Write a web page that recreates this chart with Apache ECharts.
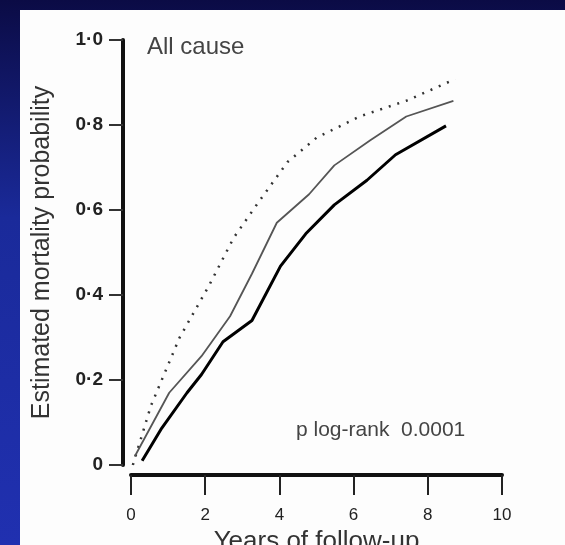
<!DOCTYPE html>
<html><head><meta charset="utf-8">
<script src="https://cdn.jsdelivr.net/npm/echarts@6/dist/echarts.min.js"></script>
<style>
html,body{margin:0;padding:0;}
body{width:565px;height:545px;background:linear-gradient(to bottom,#0b0b45 0%,#1a2a9a 40%,#2030b0 100%);}
#c{width:565px;height:545px;}
</style></head><body><div id="c"></div>
<script>
const xTicks = [0, 2, 4, 6, 8, 10];
const yTicks = [0, 0.2, 0.4, 0.6, 0.8, 1.0];
const dottedSeries = [[0.05,0],[0.54,0.14],[1.31,0.30],[2.09,0.42],[2.77,0.535],[3.45,0.62],[4.22,0.713],[5.0,0.77],[6.16,0.82],[7.42,0.857],[8.74,0.908]];
const thinSeries = [[0.1,0.02],[1.03,0.17],[1.9,0.256],[2.67,0.35],[3.26,0.45],[3.93,0.57],[4.8,0.637],[5.48,0.705],[6.45,0.764],[7.42,0.82],[8.69,0.857]];
const thickSeries = [[0.3,0.01],[0.83,0.087],[1.51,0.17],[1.9,0.213],[2.48,0.29],[3.26,0.34],[4.03,0.468],[4.71,0.544],[5.48,0.612],[6.36,0.67],[7.13,0.73],[8.49,0.798]];
const c = echarts.init(document.getElementById('c'));
const ff = 'Liberation Sans';
c.setOption({
  animation:false,
  graphic:[
    {type:'rect',left:20,top:10,shape:{width:545,height:535},style:{fill:'#fdfdfd'},z:-10},
    {type:'text',left:147,top:35,style:{text:'All cause',font:'24px "Liberation Sans"',fill:'#444'}},
    {type:'text',left:296,top:420,style:{text:'p log-rank  0.0001',font:'21px "Liberation Sans"',fill:'#444'}}
  ],
  grid:{left:131,right:63,top:40,bottom:80,outerBoundsMode:'none',containLabel:false},
  xAxis:{type:'value',min:0,max:10,interval:2,offset:10,
    name:'Years of follow-up',nameLocation:'middle',nameGap:50,
    nameTextStyle:{fontFamily:ff,fontSize:26,color:'#333'},
    axisLine:{onZero:false,lineStyle:{color:'#111',width:4}},
    axisTick:{length:20,lineStyle:{color:'#222',width:2}},
    axisLabel:{fontFamily:ff,fontSize:17,color:'#222',margin:32},
    splitLine:{show:false}},
  yAxis:{type:'value',min:0,max:1,interval:0.2,offset:8,
    name:'Estimated mortality probability',nameLocation:'middle',nameGap:68,
    nameTextStyle:{fontFamily:ff,fontSize:25,color:'#333'},
    axisLine:{show:true,onZero:false,lineStyle:{color:'#111',width:4}},
    axisTick:{show:true,length:14,lineStyle:{color:'#333',width:2}},
    axisLabel:{fontFamily:ff,fontSize:19,fontWeight:'bold',color:'#222',margin:20,
      formatter:v=>v===0?'0':v.toFixed(1).replace('.','·')},
    splitLine:{show:false}},
  series:[
    {type:'line',data:dottedSeries,symbol:'none',lineStyle:{color:'#333',width:2.5,type:[2,7]}},
    {type:'line',data:thinSeries,symbol:'none',lineStyle:{color:'#555',width:1.8}},
    {type:'line',data:thickSeries,symbol:'none',lineStyle:{color:'#000',width:3}}
  ]
});
</script></body></html>
